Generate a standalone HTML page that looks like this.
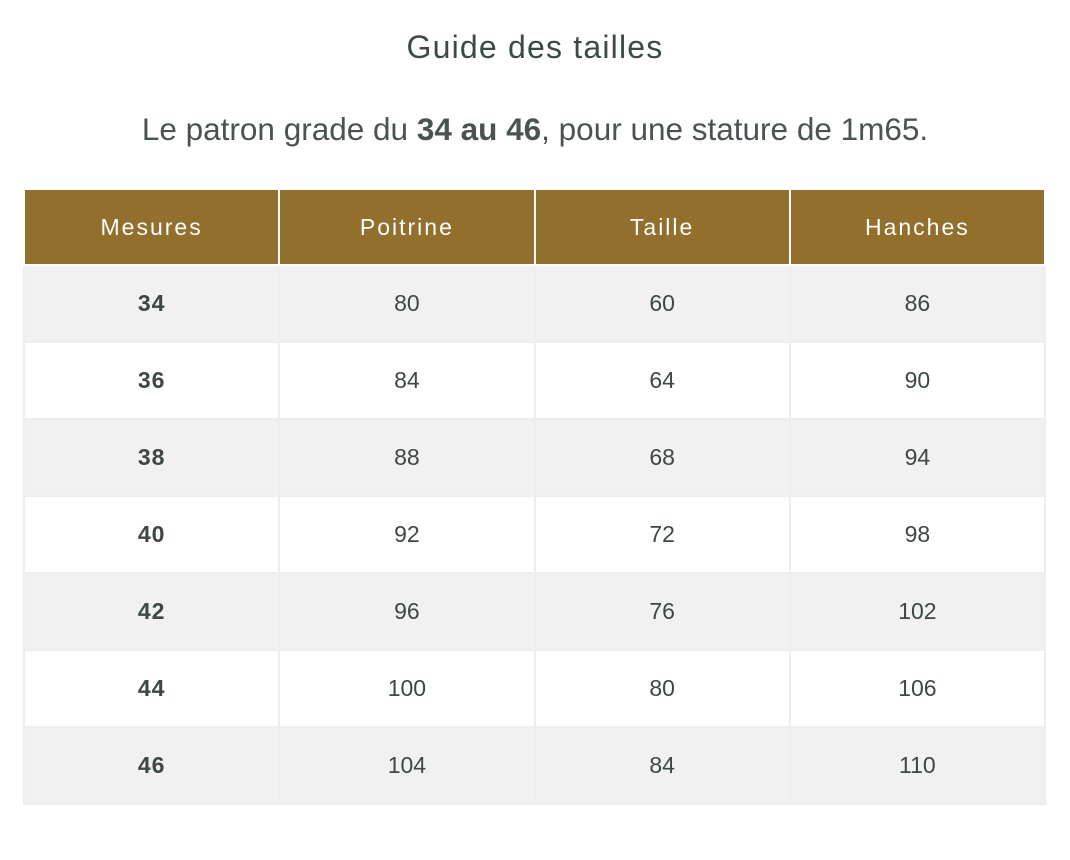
<!DOCTYPE html>
<html><head><style>
body{margin:0;background:#fff;width:1070px;height:860px;font-family:"Liberation Sans",sans-serif;color:#3d4744;}
h1{position:absolute;top:29px;left:0;width:1070px;text-align:center;margin:0;font-weight:normal;font-size:32px;letter-spacing:1.2px;color:#3b4a44;font-family:"Liberation Sans",sans-serif;}
p{position:absolute;top:111px;left:0;width:1070px;text-align:center;margin:0;font-size:31.5px;color:#4a5350;}
table{position:absolute;left:23px;top:188px;width:1023px;border-collapse:collapse;border:1px solid #e6eaea;}
td,th{height:75px;text-align:center;border:2px solid #eceff0;padding:0;width:25%;font-size:23px;}
th{height:74px;background:#936f2e;color:#fff;font-weight:normal;letter-spacing:2px;font-size:23px;border-color:#fff;}
tr:nth-child(even) td{background:#f1f1f1;}
td:first-child{font-weight:bold;letter-spacing:1px;}
</style></head><body>
<h1>Guide des tailles</h1>
<p>Le patron grade du <b>34 au 46</b>, pour une stature de 1m65.</p>
<table>
<tr><th>Mesures</th><th>Poitrine</th><th>Taille</th><th>Hanches</th></tr>
<tr><td>34</td><td>80</td><td>60</td><td>86</td></tr>
<tr><td>36</td><td>84</td><td>64</td><td>90</td></tr>
<tr><td>38</td><td>88</td><td>68</td><td>94</td></tr>
<tr><td>40</td><td>92</td><td>72</td><td>98</td></tr>
<tr><td>42</td><td>96</td><td>76</td><td>102</td></tr>
<tr><td>44</td><td>100</td><td>80</td><td>106</td></tr>
<tr><td>46</td><td>104</td><td>84</td><td>110</td></tr>
</table>
</body></html>
